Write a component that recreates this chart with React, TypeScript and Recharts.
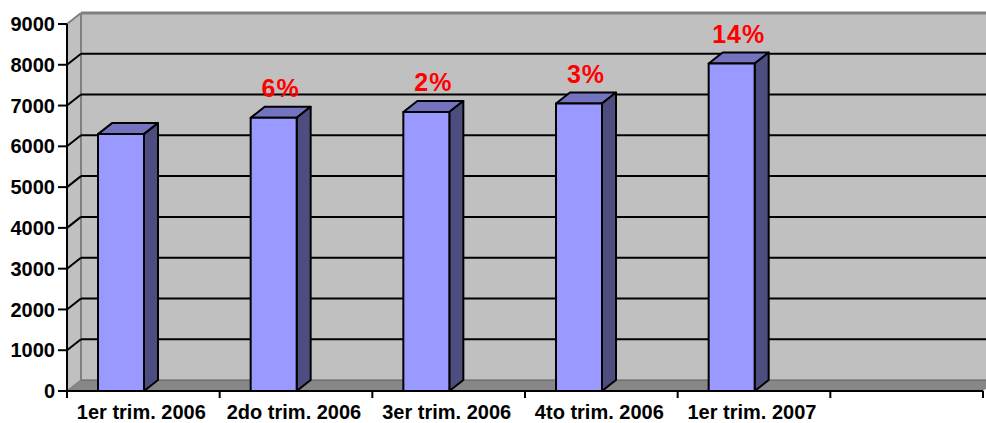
import { BarChart, Bar, XAxis, YAxis, CartesianGrid, ReferenceArea, LabelList } from "recharts";

const categories = ["1er trim. 2006", "2do trim. 2006", "3er trim. 2006", "4to trim. 2006", "1er trim. 2007", ""];
const sales = [6300, 6700, 6840, 7050, 8030, null];
const growth = ["", "6%", "2%", "3%", "14%", ""];
const yTicks = [0, 1000, 2000, 3000, 4000, 5000, 6000, 7000, 8000, 9000];
const gridValues = [1000, 2000, 3000, 4000, 5000, 6000, 7000, 8000];

const data = categories.map((name, i) => ({ name, sales: sales[i], growth: growth[i] }));

// oblique 3d depth, like the old excel charts
const DX = 14;
const DY = -11;
const SHIFT = -22;
const FONT = '"Liberation Sans", Arial, sans-serif';

function Walls(props: any) {
  const { x, y, width: w, height: h } = props;
  const b = y + h;
  return (
    <g>
      <rect x={x + DX} y={y + DY} width={w + 20} height={h} fill="#c0c0c0" />
      <polygon
        points={`${x},${y} ${x + DX},${y + DY} ${x + DX},${b + DY} ${x},${b}`}
        fill="#c0c0c0"
      />
      <polygon
        points={`${x},${b} ${x + DX},${b + DY} ${x + w + DX},${b + DY} ${x + w},${b}`}
        fill="#878787"
      />
      <line x1={x + DX} y1={b + DY} x2={x + w + DX} y2={b + DY} stroke="#5f5f5f" strokeWidth={1} />
      <line x1={x + DX} y1={y + DY} x2={x + w + DX} y2={y + DY} stroke="#808080" strokeWidth={3} />
      <line x1={x} y1={y} x2={x + DX} y2={y + DY} stroke="#808080" strokeWidth={2} />
      <line x1={x + DX} y1={y + DY} x2={x + DX} y2={b + DY} stroke="#808080" strokeWidth={2} />
      <line x1={x} y1={b} x2={x + DX} y2={b + DY} stroke="#808080" strokeWidth={1.5} />
    </g>
  );
}

function gridLine(props: any) {
  const { x1, y1, x2 } = props;
  return (
    <g key={`g-${y1}`}>
      <line x1={x1} y1={y1} x2={x1 + DX} y2={y1 + DY} stroke="#000" strokeWidth={2} />
      <line x1={x1 + DX} y1={y1 + DY} x2={x2 + DX + 20} y2={y1 + DY} stroke="#000" strokeWidth={2} />
    </g>
  );
}

function Box(props: any) {
  const { x, y, width: w, height: h } = props;
  if (h == null || isNaN(h)) return null;
  const l = x + SHIFT;
  const r = l + w;
  const b = y + h;
  return (
    <g stroke="#000" strokeWidth={2} strokeLinejoin="round">
      <polygon points={`${l},${y} ${l + DX},${y + DY} ${r + DX},${y + DY} ${r},${y}`} fill="#7373bf" />
      <polygon points={`${r},${y} ${r + DX},${y + DY} ${r + DX},${b + DY} ${r},${b}`} fill="#4d4d80" />
      <rect x={l} y={y} width={w} height={h} fill="#9999ff" />
    </g>
  );
}

function GrowthLabel(props: any) {
  const { x, y, width, value } = props;
  if (!value) return null;
  return (
    <text
      x={x + SHIFT + width / 2 + DX / 2}
      y={y - 21}
      textAnchor="middle"
      fill="#ff0000"
      fontFamily={FONT}
      fontWeight="bold"
      fontSize={25}
      letterSpacing={1}
    >
      {value}
    </text>
  );
}

function CatTick(props: any) {
  const { x, y, payload, index, visibleTicksCount, width } = props;
  const half = width / visibleTicksCount / 2;
  return (
    <g>
      <line x1={x + half} y1={y} x2={x + half} y2={y + 7} stroke="#000" strokeWidth={2} />
      {index === 0 && <line x1={x - half} y1={y} x2={x - half} y2={y + 7} stroke="#000" strokeWidth={2} />}
      <text
        x={x - 2}
        y={y + 28}
        textAnchor="middle"
        fill="#000"
        fontFamily={FONT}
        fontWeight="bold"
        fontSize={20}
      >
        {payload.value}
      </text>
    </g>
  );
}

export default function App() {
  return (
    <div style={{ width: 986, height: 423, background: "#fff" }}>
      <style>{"body{margin:0}"}</style>
      <BarChart width={986} height={423} data={data} margin={{ top: 24, right: 3, left: 0, bottom: 0 }} barSize={46}>
        <ReferenceArea y1={0} y2={9000} shape={Walls} ifOverflow="visible" zIndex={-200} />
        <CartesianGrid vertical={false} horizontalValues={gridValues} horizontal={gridLine} zIndex={-100} />
        <XAxis
          dataKey="name"
          interval={0}
          height={32}
          tickSize={0}
          tickMargin={0}
          tickLine={false}
          axisLine={{ stroke: "#000", strokeWidth: 2 }}
          tick={CatTick}
        />
        <YAxis
          width={67}
          domain={[0, 9000]}
          ticks={yTicks}
          interval={0}
          tickSize={9}
          tickMargin={3}
          axisLine={{ stroke: "#000", strokeWidth: 2 }}
          tickLine={{ stroke: "#000", strokeWidth: 2 }}
          tick={{ fill: "#000", fontFamily: FONT, fontWeight: "bold", fontSize: 20 }}
        />
        <Bar dataKey="sales" shape={Box} isAnimationActive={false}>
          <LabelList dataKey="growth" content={GrowthLabel} />
        </Bar>
      </BarChart>
    </div>
  );
}
